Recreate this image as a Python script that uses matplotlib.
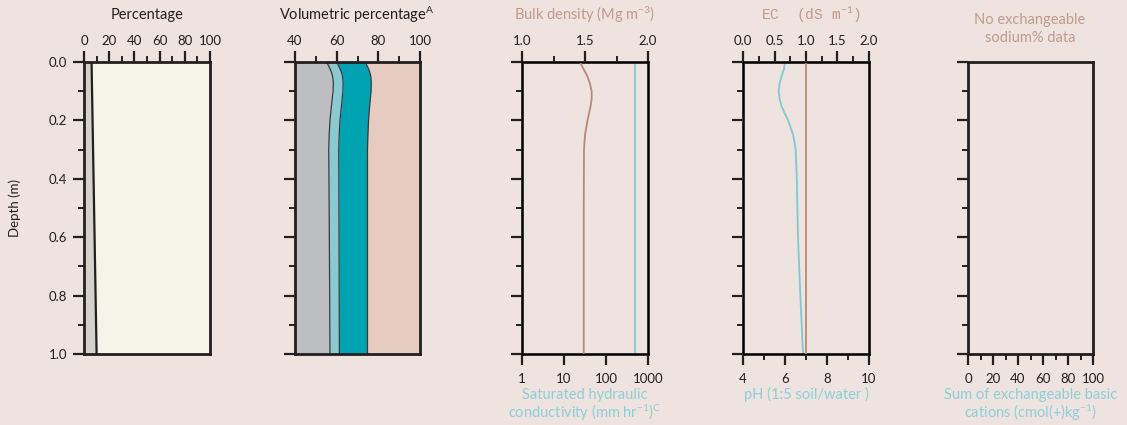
import numpy as np
import matplotlib
matplotlib.use("Agg")
import matplotlib.pyplot as plt
from matplotlib.ticker import MultipleLocator, FixedLocator, NullFormatter, NullLocator

plt.rcParams['font.family'] = ['Lato', 'DejaVu Sans']
plt.rcParams['mathtext.fontset'] = 'custom'
plt.rcParams['mathtext.rm'] = 'Lato'
plt.rcParams['mathtext.it'] = 'Lato'

BG = '#EEE3DE'
INK = '#231F20'
BROWN_TXT = '#C29A8C'
CYAN_TXT = '#8DCFD9'
BROWN_LINE = '#B98978'
CYAN_LINE = '#7DCAD3'

# ---- data ----
pct_depth = [0.0, 1.0]
pct_fine = [6, 10]

vol_depth = [0.0, 0.02, 0.035, 0.05, 0.07, 0.1, 0.13, 0.17, 0.2, 0.25, 0.3, 0.5, 1.0]
vol_b1 = [55.2, 56.6, 57.5, 58.1, 58.4, 58.3, 57.8, 57.2, 56.8, 56.4, 56.2, 56.4, 56.8]
vol_b2 = [60.0, 61.4, 62.3, 62.8, 63.1, 63.0, 62.6, 62.0, 61.6, 61.2, 61.0, 61.1, 61.3]
vol_b3 = [73.7, 75.1, 75.9, 76.4, 76.6, 76.5, 76.1, 75.6, 75.3, 75.0, 74.8, 74.8, 74.8]

bd_depth = [0.0, 0.025, 0.05, 0.075, 0.1, 0.125, 0.15, 0.2, 0.25, 0.3, 0.5, 1.0]
bd = [1.46, 1.49, 1.52, 1.54, 1.553, 1.553, 1.545, 1.52, 1.50, 1.492, 1.49, 1.49]
ksat_depth = [0.0, 1.0]
ksat = [490, 490]

ph_depth = [0.0, 0.025, 0.05, 0.075, 0.1, 0.125, 0.15, 0.175, 0.2, 0.25, 0.3, 0.4, 0.6, 0.8, 1.0]
ph = [6.0, 5.95, 5.83, 5.74, 5.70, 5.74, 5.83, 5.98, 6.15, 6.39, 6.51, 6.56, 6.62, 6.73, 6.86]
ec_depth = [0.0, 1.0]
ec = [1.0, 1.0]

depth_ticks = [0.0, 0.2, 0.4, 0.6, 0.8, 1.0]

fig = plt.figure(figsize=(11.27, 4.25), dpi=100, facecolor=BG)

W, H = 1127.0, 425.0
top_px, bot_px = 62, 354
TICK_FS = 9.5
TITLE_FS = 10.5

def style_x(ax, pad):
    ax.tick_params(axis='x', which='major', direction='out', length=8, width=1.6, color=INK,
                   labelsize=TICK_FS, labelcolor=INK, pad=pad)
    ax.tick_params(axis='x', which='minor', direction='out', length=4.5, width=1.4, color=INK)

def make_ax(x0, x1):
    ax = fig.add_axes([x0 / W, 1 - bot_px / H, (x1 - x0) / W, (bot_px - top_px) / H])
    ax.set_facecolor(BG)
    ax.set_ylim(1.0, 0.0)
    ax.yaxis.set_major_locator(FixedLocator(depth_ticks))
    ax.yaxis.set_minor_locator(FixedLocator([0.1, 0.3, 0.5, 0.7, 0.9]))
    for s in ax.spines.values():
        s.set_linewidth(2.0)
        s.set_color(INK)
    ax.tick_params(axis='y', which='major', direction='out', length=8, width=1.6,
                   color=INK, labelsize=TICK_FS, labelcolor=INK, pad=4)
    ax.tick_params(axis='y', which='minor', direction='out', length=4.5, width=1.4, color=INK)
    style_x(ax, 6)
    ax.yaxis.set_major_formatter(NullFormatter())
    return ax

def top_axis(ax, lo, hi, major, minor, fmt):
    ax.set_xlim(lo, hi)
    ax.xaxis.set_major_locator(MultipleLocator(major))
    ax.xaxis.set_minor_locator(MultipleLocator(minor))
    ax.xaxis.tick_top()
    ax.xaxis.set_major_formatter(plt.FuncFormatter(lambda v, p: fmt.format(v)))
    style_x(ax, 3)

def title(x, y, s, color, **kw):
    fig.text(x / W, 1 - y / H, s, ha='center', va='center', fontsize=TITLE_FS, color=color, **kw)

# ---- panel 1: percentage ----
ax1 = make_ax(84, 210)
top_axis(ax1, 0, 100, 20, 10, '{:.0f}')
ax1.yaxis.set_major_formatter(plt.FuncFormatter(lambda v, p: '{:.1f}'.format(v)))
ax1.fill_betweenx(pct_depth, 0, pct_fine, color='#D5D2CC', lw=0)
ax1.fill_betweenx(pct_depth, pct_fine, 100, color='#F6F3E8', lw=0)
ax1.plot(pct_fine, pct_depth, color=INK, lw=1.6)
title(147, 15, 'Percentage', INK)
fig.text(15 / W, 1 - 208 / H, 'Depth (m)', rotation=90, ha='center', va='center',
         fontsize=9.5, color=INK)

# ---- panel 2: volumetric percentage ----
ax2 = make_ax(295, 420)
top_axis(ax2, 40, 100, 20, 10, '{:.0f}')
ax2.fill_betweenx(vol_depth, 40, vol_b1, color='#BDBEC2', lw=0)
ax2.fill_betweenx(vol_depth, vol_b1, vol_b2, color='#8BCAD2', lw=0)
ax2.fill_betweenx(vol_depth, vol_b2, vol_b3, color='#00A3B1', lw=0)
ax2.fill_betweenx(vol_depth, vol_b3, 100, color='#E5CBC0', lw=0)
for b in (vol_b1, vol_b2, vol_b3):
    ax2.plot(b, vol_depth, color='#3A3A3C', lw=0.9)
title(357, 15, 'Volumetric percentage$^{\\mathrm{A}}$', INK)

# ---- panel 3: bulk density / Ksat ----
ax3 = make_ax(522, 648)
ax3.set_xscale('log')
ax3.set_xlim(1, 1000)
ax3.xaxis.set_major_locator(FixedLocator([1, 10, 100, 1000]))
ax3.xaxis.set_minor_locator(NullLocator())
ax3.xaxis.set_major_formatter(plt.FuncFormatter(lambda v, p: '{:.0f}'.format(v)))
ax3.plot(ksat, ksat_depth, color=CYAN_LINE, lw=1.3)
ax3.set_xlabel('Saturated hydraulic\nconductivity (mm hr$^{-1}$)$^{\\mathrm{C}}$',
               fontsize=TITLE_FS, color=CYAN_TXT, labelpad=2, linespacing=1.05)
ax3t = ax3.twiny()
ax3t.set_xlim(1.0, 2.0)
ax3t.xaxis.set_major_locator(MultipleLocator(0.5))
ax3t.xaxis.set_minor_locator(MultipleLocator(0.25))
ax3t.xaxis.set_major_formatter(plt.FuncFormatter(lambda v, p: '{:.1f}'.format(v)))
style_x(ax3t, 3)
ax3t.plot(bd, bd_depth, color=BROWN_LINE, lw=1.3)
ax3t.set_ylim(1.0, 0.0)
title(585, 15, 'Bulk density (Mg m$^{-3}$)', BROWN_TXT)

# ---- panel 4: EC / pH ----
ax4 = make_ax(743, 869)
ax4.set_xlim(4, 10)
ax4.xaxis.set_major_locator(MultipleLocator(2))
ax4.xaxis.set_minor_locator(MultipleLocator(1))
ax4.plot(ph, ph_depth, color=CYAN_LINE, lw=1.3)
ax4.set_xlabel('pH (1:5 soil/water )', fontsize=TITLE_FS, color=CYAN_TXT, labelpad=1)
ax4t = ax4.twiny()
ax4t.set_xlim(0, 2.0)
ax4t.xaxis.set_major_locator(MultipleLocator(0.5))
ax4t.xaxis.set_minor_locator(MultipleLocator(0.25))
ax4t.xaxis.set_major_formatter(plt.FuncFormatter(lambda v, p: '{:.1f}'.format(v)))
style_x(ax4t, 3)
ax4t.plot(ec, ec_depth, color=BROWN_LINE, lw=1.3)
ax4t.set_ylim(1.0, 0.0)
title(811, 15, 'EC  (dS m$^{-1}$)', BROWN_TXT, family=['Liberation Mono', 'DejaVu Sans Mono'])

# ---- panel 5: empty ----
ax5 = make_ax(968, 1093)
ax5.set_xlim(0, 100)
ax5.xaxis.set_major_locator(MultipleLocator(20))
ax5.xaxis.set_minor_locator(MultipleLocator(10))
ax5.xaxis.set_major_formatter(plt.FuncFormatter(lambda v, p: '{:.0f}'.format(v)))
ax5.set_xlabel('Sum of exchangeable basic\ncations (cmol(+)kg$^{-1}$)',
               fontsize=TITLE_FS, color=CYAN_TXT, labelpad=2, linespacing=1.05)
title(1030, 29, 'No exchangeable\nsodium% data', BROWN_TXT, linespacing=1.3)

fig.savefig('out.png', dpi=100, facecolor=BG)
